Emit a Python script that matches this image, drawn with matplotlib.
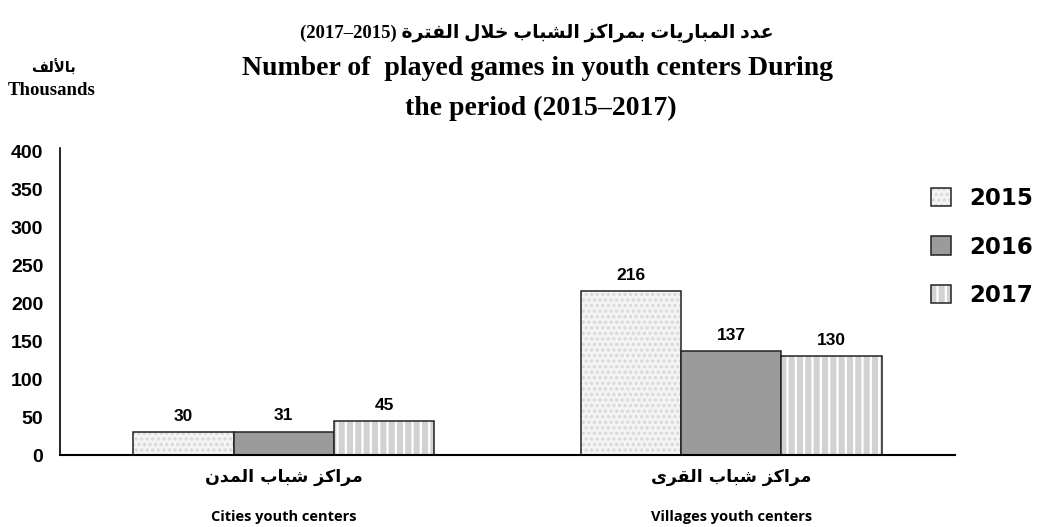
import numpy as np
import matplotlib.pyplot as plt
from matplotlib.patches import Patch

# ---- simple arabic shaping (presentation forms) so the text reads right-to-left
FORMS = {
    '\u0627': ('\uFE8D', '\uFE8E', None, None),
    '\u0623': ('\uFE83', '\uFE84', None, None),
    '\u0628': ('\uFE8F', '\uFE90', '\uFE91', '\uFE92'),
    '\u0629': ('\uFE93', '\uFE94', None, None),
    '\u062A': ('\uFE95', '\uFE96', '\uFE97', '\uFE98'),
    '\u062E': ('\uFEA5', '\uFEA6', '\uFEA7', '\uFEA8'),
    '\u062F': ('\uFEA9', '\uFEAA', None, None),
    '\u0631': ('\uFEAD', '\uFEAE', None, None),
    '\u0632': ('\uFEAF', '\uFEB0', None, None),
    '\u0634': ('\uFEB5', '\uFEB6', '\uFEB7', '\uFEB8'),
    '\u0639': ('\uFEC9', '\uFECA', '\uFECB', '\uFECC'),
    '\u0641': ('\uFED1', '\uFED2', '\uFED3', '\uFED4'),
    '\u0642': ('\uFED5', '\uFED6', '\uFED7', '\uFED8'),
    '\u0643': ('\uFED9', '\uFEDA', '\uFEDB', '\uFEDC'),
    '\u0644': ('\uFEDD', '\uFEDE', '\uFEDF', '\uFEE0'),
    '\u0645': ('\uFEE1', '\uFEE2', '\uFEE3', '\uFEE4'),
    '\u0646': ('\uFEE5', '\uFEE6', '\uFEE7', '\uFEE8'),
    '\u0649': ('\uFEEF', '\uFEF0', None, None),
    '\u064A': ('\uFEF1', '\uFEF2', '\uFEF3', '\uFEF4'),
}
LAM_ALEF = {'\u0627': ('\uFEFB', '\uFEFC'), '\u0623': ('\uFEF7', '\uFEF8')}


def ar(text):
    # merge lam + alef into one unit
    units = []
    i = 0
    while i < len(text):
        c = text[i]
        if c == '\u0644' and i + 1 < len(text) and text[i + 1] in LAM_ALEF:
            units.append(('LA', text[i + 1]))
            i += 2
        else:
            units.append(('C', c))
            i += 1

    def is_ar(u):
        return u[0] == 'LA' or u[1] in FORMS

    def joins_fwd(u):
        return u[0] == 'C' and u[1] in FORMS and FORMS[u[1]][2] is not None

    out = []
    for k, u in enumerate(units):
        if not is_ar(u):
            out.append(u[1])
            continue
        prev_j = k > 0 and joins_fwd(units[k - 1])
        if u[0] == 'LA':
            out.append(LAM_ALEF[u[1]][1 if prev_j else 0])
            continue
        next_j = joins_fwd(u) and k + 1 < len(units) and is_ar(units[k + 1])
        f = FORMS[u[1]]
        if prev_j and next_j:
            out.append(f[3])
        elif prev_j:
            out.append(f[1])
        elif next_j:
            out.append(f[2])
        else:
            out.append(f[0])
    return ''.join(out)[::-1]


# ---- data
categories_ar = ['مراكز شباب المدن', 'مراكز شباب القرى']
categories_en = ['Cities youth centers', 'Villages youth centers']
years = ['2015', '2016', '2017']
games_2015 = [30, 216]
games_2016 = [31, 137]
games_2017 = [45, 130]
series = [games_2015, games_2016, games_2017]

title_ar = 'عدد المباريات بمراكز الشباب خلال الفترة'
title_en1 = 'Number of  played games in youth centers During'
title_en2 = 'the period (2015–2017)'
unit_ar = 'بالألف'
unit_en = 'Thousands'

plt.rcParams['hatch.linewidth'] = 1.6

face = ['#f4f4f4', '#9b9b9b', '#d2d2d2']
hatch = ['...', None, '||']
hcol = ['#d8d8d8', '#9b9b9b', '#ffffff']

fig = plt.figure(figsize=(10.37, 5.27), dpi=100)
ax = fig.add_axes([60 / 1037, 1 - 455 / 527, 895 / 1037, 307 / 527])

x = np.arange(len(categories_en))
w = 0.224
handles = []
for j, vals in enumerate(series):
    pos = x + (j - 1) * w
    ax.bar(pos, vals, w, color=face[j], edgecolor=hcol[j], hatch=hatch[j], linewidth=0)
    ax.bar(pos, vals, w, fill=False, edgecolor='#222222', linewidth=1.1)
    for p, v in zip(pos, vals):
        ax.annotate(str(v), (p, v), xytext=(0, 6), textcoords='offset points',
                    ha='center', va='bottom', fontsize=12.5, fontweight='bold',
                    family='Liberation Sans')
    handles.append((Patch(facecolor=face[j], edgecolor=hcol[j], hatch=hatch[j], linewidth=0),
                    Patch(fill=False, edgecolor='#222222', linewidth=1.1)))

ax.set_xlim(-0.5, 1.5)
ax.set_ylim(0, 405)
ax.set_yticks(np.arange(0, 401, 50))
ax.set_yticklabels([str(v) for v in range(0, 401, 50)], fontsize=14, fontweight='bold',
                   family='Liberation Sans')
ax.tick_params(axis='y', length=0, pad=12)
ax.set_xticks([])
for s in ['top', 'right']:
    ax.spines[s].set_visible(False)
ax.spines['left'].set_linewidth(1.2)
ax.spines['bottom'].set_linewidth(1.5)

# category labels
for xi, a, e in zip(x, categories_ar, categories_en):
    ax.text(xi, -0.072, ar(a), transform=ax.get_xaxis_transform(), ha='center', va='center',
            fontsize=12.5, fontweight='bold', family='DejaVu Sans')
    ax.text(xi, -0.203, e, transform=ax.get_xaxis_transform(), ha='center', va='center',
            fontsize=10.5, fontweight='bold', family='Open Sans')

# titles
serif = ['Liberation Serif', 'DejaVu Sans']
fig.text(537 / 1037, 1 - 33 / 527, '(2017–2015) ' + ar(title_ar), ha='center', va='center',
         fontsize=13.5, fontweight='bold', family=serif)
fig.text(537 / 1037, 1 - 69 / 527, title_en1, ha='center', va='center',
         fontsize=20, fontweight='bold', family=serif)
fig.text(541 / 1037, 1 - 108 / 527, title_en2, ha='center', va='center',
         fontsize=20, fontweight='bold', family=serif)
fig.text(53 / 1037, 1 - 68 / 527, ar(unit_ar), ha='center', va='center',
         fontsize=10.5, fontweight='bold', family='DejaVu Sans')
fig.text(52 / 1037, 1 - 91 / 527, unit_en, ha='center', va='center',
         fontsize=13.5, fontweight='bold', family=serif)

ax.legend(handles, years, loc='center left', bbox_to_anchor=(915 / 1037, 1 - 247 / 527),
          bbox_transform=fig.transFigure, frameon=False, handlelength=0.85, handleheight=0.85,
          handletextpad=0.8, labelspacing=1.12, borderpad=0.2,
          prop={'family': 'DejaVu Sans', 'weight': 'bold', 'size': 16.5})

fig.savefig('out.png', dpi=100)
